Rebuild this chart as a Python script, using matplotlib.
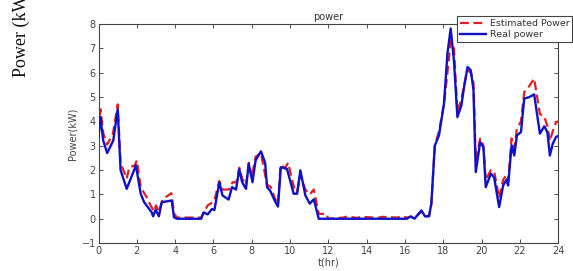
import matplotlib.pyplot as plt
import numpy as np

# real power (blue)
t_real = [0, 0.1, 0.24, 0.45, 0.77, 1.0, 1.15, 1.47, 1.95, 2.2, 2.38, 2.77, 2.85, 2.98, 3.15,
          3.3, 3.82, 3.94, 4.1, 5.36, 5.48, 5.7, 5.92, 6.05, 6.31, 6.47, 6.79, 6.97, 7.18,
          7.35, 7.5, 7.7, 7.84, 8.04, 8.2, 8.48, 8.7, 8.8, 8.97, 9.23, 9.37, 9.52, 9.84,
          10.19, 10.37, 10.54, 10.8, 11.03, 11.24, 11.5, 16.1, 16.3, 16.5, 16.86, 17.05,
          17.26, 17.38, 17.56, 17.78, 18.04, 18.22, 18.39, 18.56, 18.74, 18.95, 19.09,
          19.27, 19.44, 19.58, 19.7, 19.93, 20.1, 20.22, 20.49, 20.66, 20.92, 21.13, 21.3,
          21.39, 21.57, 21.71, 21.85, 22.06, 22.23, 22.49, 22.75, 23.05, 23.28, 23.44,
          23.57, 23.72, 23.89, 24.0]
p_real = [3.4, 4.18, 3.22, 2.7, 3.22, 4.5, 2.0, 1.23, 2.19, 1.03, 0.68, 0.27, 0.1, 0.37, 0.1,
          0.68, 0.75, 0.06, 0.0, 0.0, 0.26, 0.18, 0.4, 0.36, 1.5, 0.96, 0.79, 1.3, 1.2,
          2.03, 1.5, 1.23, 2.26, 1.5, 2.4, 2.77, 2.3, 1.3, 1.14, 0.7, 0.5, 2.12, 2.05,
          1.03, 1.03, 1.99, 0.96, 0.62, 0.8, 0.0, 0.0, 0.1, 0.0, 0.34, 0.1,
          0.1, 0.63, 3.0, 3.43, 4.73, 6.79, 7.82, 6.5, 4.18, 4.66, 5.42,
          6.24, 6.1, 5.3, 1.92, 3.15, 2.94, 1.3, 1.85, 1.7, 0.48, 1.37, 1.6,
          1.37, 3.02, 2.6, 3.43, 3.56, 4.94, 5.0, 5.11, 3.5, 3.8, 3.56,
          2.6, 3.08, 3.36, 3.4]

# estimated power (red dashed)
t_est = [0, 0.1, 0.25, 0.45, 0.75, 1.0, 1.15, 1.47, 1.6, 1.9, 2.0, 2.2, 2.5, 2.75, 2.9, 3.0,
         3.15, 3.35, 3.8, 3.95, 4.1, 5.36, 5.7, 5.9, 6.05, 6.3, 6.5, 6.8, 7.0, 7.2, 7.35,
         7.5, 7.7, 7.85, 8.0, 8.2, 8.48, 8.8, 9.0, 9.2, 9.37, 9.5, 9.75, 9.9, 10.2, 10.37,
         10.54, 10.8, 11.03, 11.24, 11.5, 11.9, 12.0, 12.8, 13.0, 13.5, 13.7, 14.6, 14.8,
         15.6, 15.8, 16.1, 16.3, 16.5, 16.86, 17.05, 17.26, 17.38, 17.56, 17.78, 18.04,
         18.22, 18.39, 18.56, 18.74, 18.95, 19.09, 19.27, 19.44, 19.58, 19.7, 19.93, 20.1,
         20.22, 20.49, 20.66, 20.92, 21.13, 21.3, 21.39, 21.57, 21.71, 21.85, 22.06,
         22.23, 22.49, 22.75, 23.05, 23.28, 23.44, 23.57, 23.72, 23.89, 24.0]
p_est = [3.7, 4.5, 3.5, 3.05, 3.5, 4.7, 2.3, 1.65, 2.1, 2.2, 2.4, 1.3, 0.9, 0.5, 0.3, 0.55,
         0.3, 0.8, 1.05, 0.2, 0.05, 0.05, 0.55, 0.65, 0.75, 1.55, 1.2, 1.2, 1.5, 1.5, 2.1,
         1.65, 1.4, 2.3, 1.7, 2.55, 2.7, 1.4, 1.3, 0.85, 0.6, 2.2, 2.1, 2.3, 1.3, 1.1,
         1.8, 1.2, 1.0, 1.2, 0.2, 0.2, 0.0, 0.05, 0.1, 0.03, 0.08, 0.04, 0.08,
         0.05, 0.1, 0.05, 0.08, 0.02, 0.3, 0.1, 0.12, 0.6, 3.0, 3.6, 4.7,
         6.0, 7.3, 7.0, 4.4, 4.9, 5.5, 6.1, 6.0, 5.6, 2.4, 3.3, 3.0,
         1.6, 2.0, 1.95, 0.85, 1.6, 1.8, 1.55, 3.3, 2.9, 3.7, 4.0,
         5.2, 5.45, 5.76, 4.3, 4.2, 3.8, 3.2, 3.6, 3.97, 4.0]

xticks = np.arange(0, 25, 2)
yticks = np.arange(-1, 9, 1)

fig = plt.figure(figsize=(5.73, 2.71), dpi=100)
ax = fig.add_axes([0.172, 0.103, 0.802, 0.808])

ax.plot(t_est, p_est, '--', color='#e02020', lw=1.6, dashes=(4, 2), label='Estimated Power', zorder=2)
ax.plot(t_real, p_real, '-', color='#1010c8', lw=1.7, label='Real power', zorder=3)

ax.set_xlim(0, 24)
ax.set_ylim(-1, 8)
ax.set_xticks(xticks)
ax.set_yticks(yticks)
ax.tick_params(direction='in', top=True, right=True, labelsize=7, labelcolor='#444444',
               length=3, width=0.6, color='#333333', pad=2)
for s in ax.spines.values():
    s.set_color('#444444')
    s.set_linewidth(0.8)

ax.set_title('power', fontsize=7, color='#333333', pad=3)
ax.set_xlabel('t(hr)', fontsize=7, color='#444444', labelpad=1)
ax.set_ylabel('Power(kW)', fontsize=7, color='#444444', labelpad=3)

leg = fig.legend(loc='upper right', bbox_to_anchor=(0.999, 0.94), fontsize=6.8,
                 fancybox=False, framealpha=1, edgecolor='#444444', borderpad=0.3,
                 handlelength=2.8, handletextpad=0.4, labelspacing=0.2, borderaxespad=0)
leg.get_frame().set_linewidth(0.8)
for txt in leg.get_texts():
    txt.set_color('#333333')

# big side label from the page, cut off at the top edge as in the source
fig.text(0.038, 0.715, 'Power (kW)', rotation=90, ha='center', va='bottom',
         fontsize=13, family='Liberation Serif', color='#111111')

fig.savefig('out.png', dpi=100)
